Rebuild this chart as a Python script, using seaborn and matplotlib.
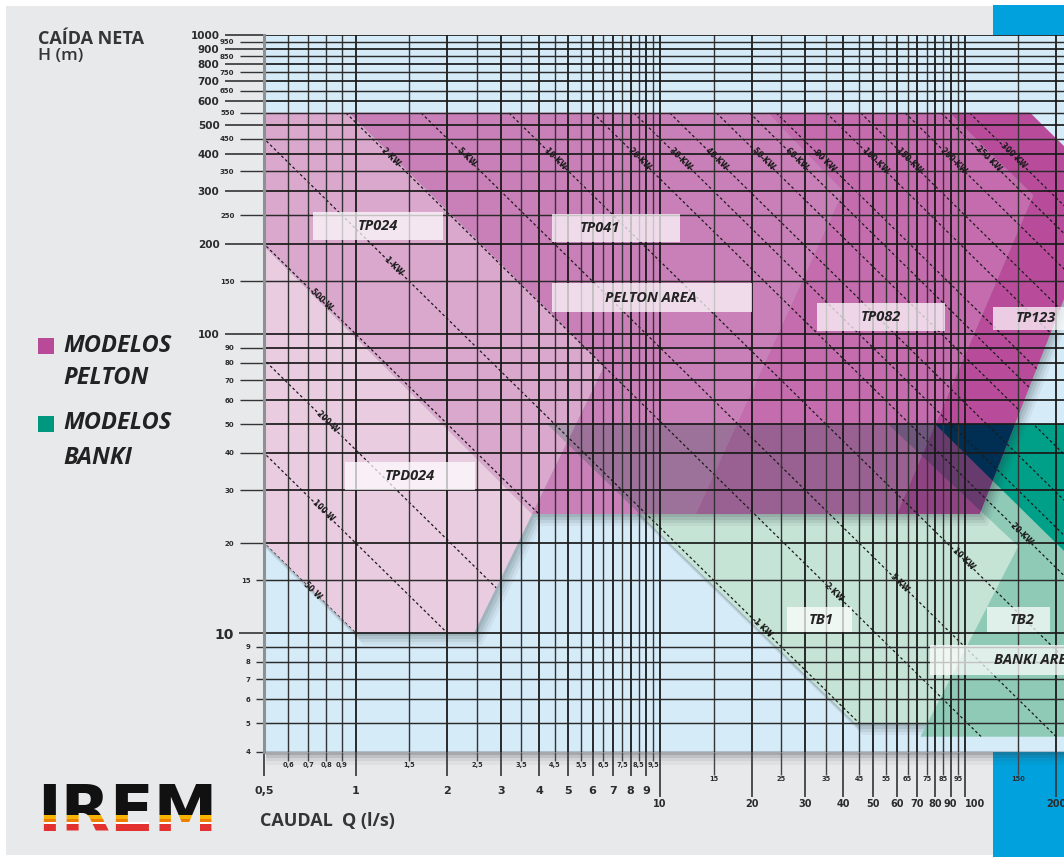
import numpy as np
import pandas as pd
import matplotlib
matplotlib.use("Agg")
import matplotlib.pyplot as plt
import matplotlib.transforms as mtransforms
from matplotlib.path import Path
from matplotlib.patches import PathPatch, Rectangle
from matplotlib.colors import to_rgb
from matplotlib import font_manager
import seaborn as sns

sns.set_theme(style="white")
plt.rcParams["font.family"] = ["Open Sans", "DejaVu Sans"]

_names = {f.name for f in font_manager.fontManager.ttflist}
NARROW = "Liberation Sans Narrow" if "Liberation Sans Narrow" in _names else "DejaVu Sans"

# ---------------- axis ticks: flow Q (l/s) and net head H (m) ----------------
q_units = [0.5, 1, 2, 3, 4, 5, 6, 7, 8, 9]
q_units_lbl = ["0,5", "1", "2", "3", "4", "5", "6", "7", "8", "9"]
q_halves = [0.6, 0.7, 0.8, 0.9, 1.5, 2.5, 3.5, 4.5, 5.5, 6.5, 7.5, 8.5, 9.5]
q_halves_lbl = ["0,6", "0,7", "0,8", "0,9", "1,5", "2,5", "3,5", "4,5", "5,5",
                "6,5", "7,5", "8,5", "9,5"]
q_tens = [10, 20, 30, 40, 50, 60, 70, 80, 90, 100, 200]
q_tens_lbl = ["10", "20", "30", "40", "50", "60", "70", "80", "90", "100", "200"]
q_fives = [15, 25, 35, 45, 55, 65, 75, 85, 95, 150]
q_fives_lbl = ["15", "25", "35", "45", "55", "65", "75", "85", "95", "150"]

h_hundreds = [100, 200, 300, 400, 500, 600, 700, 800, 900, 1000]
h_fifties = [20, 30, 40, 50, 60, 70, 80, 90, 150, 250, 350, 450, 550, 650, 750, 850, 950]
h_ten = [10]
h_units = [4, 5, 6, 7, 8, 9, 15]

# ---------------- turbine application ranges (Q, H vertices) ----------------
tpd024_q = [0.2, 1.0, 2.45, 3.8, 0.2]
tpd024_h = [50, 10, 10, 25, 500]
tp024_q = [0.2, 0.95, 6.55, 3.8, 0.2]
tp024_h = [550, 550, 78, 25, 500]
tp041_q = [0.95, 22.5, 39.9, 13.1, 3.8, 6.55]
tp041_h = [550, 550, 300, 25, 25, 78]
tp082_q = [22.5, 89, 168, 60.0, 13.1, 39.9]
tp082_h = [550, 550, 291, 25, 25, 300]
tp123_q = [89, 164, 294, 112, 60.0, 168]
tp123_h = [550, 550, 306, 25, 25, 291]

tb1_q = [4.25, 272, 86, 43.6]
tb1_h = [50, 50, 5, 5]
tb2_q = [56.0, 400, 400, 71.6, 150.0]
tb2_h = [50, 50, 4.5, 4.5, 19.5]
tb3_q = [80, 400, 400, 500]
tb3_h = [50, 50, 8, 8]

# ---------------- iso-power lines (constant Q*H) ----------------
power_lbl = ["50 W", "100 W", "200 W", "500 W", "1 KW", "2 KW", "5 KW", "10 KW",
             "20 KW", "30 KW", "40 KW", "50 KW", "60 KW", "80 KW", "100 KW",
             "150 KW", "200 KW", "250 KW", "300 KW"]
power_qh = [10, 20, 41, 100, 225, 510, 900, 1750, 3300, 4500, 5900, 8400, 10800,
            13200, 19300, 25000, 35000, 46000, 57000]

# where each power label sits along its line (head H)
label_txt = ["50 W", "100 W", "200 W", "500 W", "1 KW",
             "2 KW", "5 KW", "10 KW", "20 KW", "30 KW", "40 KW", "50 KW", "60 KW",
             "80 KW", "100 KW", "150 KW", "200 KW", "250 KW", "300 KW",
             "1 KW", "2 KW", "5 KW", "10 KW", "20 KW"]
label_h = [13.9, 25.6, 51, 130, 169,
           390, 390, 385, 385, 385, 385, 385, 385,
           380, 380, 380, 380, 385, 395,
           10.4, 13.7, 14.7, 17.7, 21.5]

pelton = [("TPD024", tpd024_q, tpd024_h, "#e9cce0"),
          ("TP024", tp024_q, tp024_h, "#daa7cd"),
          ("TP041", tp041_q, tp041_h, "#c97fb7"),
          ("TP082", tp082_q, tp082_h, "#c46cad"),
          ("TP123", tp123_q, tp123_h, "#b94b9b")]
banki = [("TB1", tb1_q, tb1_h, "#c6e4d6"),
         ("TB2", tb2_q, tb2_h, "#8fcab7"),
         ("TB3", tb3_q, tb3_h, "#00a088")]

FW, FH = 1064, 857


def fx(x):
    return x / FW


def fy(y):
    return 1 - y / FH


def region_path(qs, hs):
    v = np.column_stack([qs, hs]).astype(float)
    lv = np.log10(v)
    area = 0.5 * np.sum(lv[:, 0] * np.roll(lv[:, 1], -1) - np.roll(lv[:, 0], -1) * lv[:, 1])
    if area < 0:
        v = v[::-1]
    return Path(np.vstack([v, v[:1]]), closed=True)


def mult(c1, c2):
    a, b = to_rgb(c1), to_rgb(c2)
    return tuple(x * y for x, y in zip(a, b))


fig = plt.figure(figsize=(FW / 100, FH / 100), dpi=100)
fig.patch.set_facecolor("white")
fig.patches.append(Rectangle((fx(6), fy(855)), fx(1064) - fx(6), fy(6) - fy(855),
                             transform=fig.transFigure, facecolor="#e8e9eb",
                             edgecolor="none", zorder=-3))
fig.patches.append(Rectangle((fx(993), fy(857)), fx(1064) - fx(993), fy(5) - fy(857),
                             transform=fig.transFigure, facecolor="#00a1dd",
                             edgecolor="none", zorder=-2))
# soft shadow under the chart panel
for k, a in [(3, 0.18), (6, 0.12), (9, 0.08), (13, 0.05)]:
    fig.patches.append(Rectangle((fx(266), fy(752 + k)), fx(1064) - fx(266), fy(752) - fy(752 + k),
                                 transform=fig.transFigure, facecolor="#3a3f44",
                                 alpha=a, edgecolor="none", zorder=-1))

ax = fig.add_axes([fx(264), fy(752), fx(1064) - fx(264), fy(35) - fy(752)])
ax.set_xscale("log")
ax.set_yscale("log")
ax.set_xlim(0.5, 212)
ax.set_ylim(4, 1000)
ax.set_facecolor("#d6ebf8")
for s in ["top", "right", "bottom"]:
    ax.spines[s].set_visible(False)
ax.spines["left"].set_color("#8c9196")
ax.spines["left"].set_linewidth(2.2)
ax.spines["left"].set_zorder(9)

paths = {}
for name, qs, hs, col in pelton + banki:
    paths[name] = region_path(qs, hs)


def shadow(path, zorder):
    for dx, dy, a in [(2, 3, 0.10), (4, 6, 0.10), (6, 9, 0.08), (8, 12, 0.06)]:
        tr = ax.transData + mtransforms.ScaledTranslation(dx / 100, -dy / 100, fig.dpi_scale_trans)
        ax.add_patch(PathPatch(path, transform=tr, facecolor="#26343a", alpha=a,
                               edgecolor="none", zorder=zorder))


# Banki ranges
shadow(paths["TB1"], 0.8)
banki_patches = {}
for i, (name, qs, hs, col) in enumerate(banki):
    p = PathPatch(paths[name], facecolor=col, edgecolor="none", zorder=1 + 0.01 * i)
    ax.add_patch(p)
    banki_patches[name] = p

# Pelton ranges
for name, qs, hs, col in pelton:
    shadow(paths[name], 1.5)
for i, (name, qs, hs, col) in enumerate(pelton):
    ax.add_patch(PathPatch(paths[name], facecolor=col, edgecolor="none", zorder=2 + 0.01 * i))

# overlap of both families: colours combine multiplicatively
for j, (bname, bq, bh, bcol) in enumerate(banki):
    for i, (pname, pq, ph, pcol) in enumerate(pelton):
        p = PathPatch(paths[pname], facecolor=mult(pcol, bcol), edgecolor="none",
                      zorder=3 + 0.1 * j + 0.01 * i)
        ax.add_patch(p)
        p.set_clip_path(banki_patches[bname])

# iso-power dashed lines, only inside the turbine ranges
rows = []
for lbl, qh in zip(power_lbl, power_qh):
    for q in (0.2, 600):
        rows.append({"line": lbl, "Q": q, "H": qh / q})
lines_df = pd.DataFrame(rows)
n0 = len(ax.lines)
sns.lineplot(data=lines_df, x="Q", y="H", units="line", estimator=None, sort=False,
             color="#1b1b1b", lw=0.9, linestyle=(0, (2.2, 2.0)), legend=False, ax=ax,
             zorder=4)
union = PathPatch(Path.make_compound_path(*paths.values()), transform=ax.transData)
for ln in ax.lines[n0:]:
    ln.set_clip_path(union)
ax.set_xlabel("")
ax.set_ylabel("")
ax.set_xlim(0.5, 212)
ax.set_ylim(4, 1000)

# grid
for q in q_units + q_tens:
    ax.axvline(q, color="#1a1a1a", lw=1.3, zorder=5)
for q in q_halves + q_fives:
    ax.axvline(q, color="#333333", lw=1.0, zorder=5)
for h in h_hundreds + h_ten + h_fifties[:8]:
    ax.axhline(h, color="#1a1a1a", lw=1.25, zorder=5)
for h in h_fifties[8:] + h_units:
    ax.axhline(h, color="#2a2a2a", lw=1.05, zorder=5)

# ticks
PT = 0.72
tick_font = dict(family=[NARROW, "DejaVu Sans"], fontweight="bold", color="#2b2b2b")
ax.set_xticks(q_units)
ax.set_xticklabels(q_units_lbl, fontsize=8, **tick_font)
ax.set_xticks(q_halves, minor=True)
ax.set_xticklabels(q_halves_lbl, minor=True, fontsize=4.8, **tick_font)
ax.set_yticks(h_hundreds)
ax.set_yticklabels([str(v) for v in h_hundreds], fontsize=7.5, **tick_font)
ax.set_yticks(h_fifties, minor=True)
ax.set_yticklabels([str(v) for v in h_fifties], minor=True, fontsize=5, **tick_font)
ax.tick_params(axis="x", which="major", bottom=True, direction="out", length=24 * PT,
               width=1.2, color="#333333", pad=7)
ax.tick_params(axis="x", which="minor", bottom=True, direction="out", length=9 * PT,
               width=1.0, color="#444444", pad=0.5)
ax.tick_params(axis="y", which="major", left=True, direction="out", length=39 * PT,
               width=1.2, color="#333333", pad=4)
ax.tick_params(axis="y", which="minor", left=True, direction="out", length=24 * PT,
               width=1.0, color="#333333", pad=4)

sx = ax.secondary_xaxis("bottom")
sx.set_xticks(q_tens)
sx.set_xticklabels(q_tens_lbl, fontsize=7, **tick_font)
sx.set_xticks(q_fives, minor=True)
sx.set_xticklabels(q_fives_lbl, minor=True, fontsize=4.8, **tick_font)
sx.tick_params(which="major", direction="out", length=45 * PT, width=1.2, color="#333333", pad=1.5)
sx.tick_params(which="minor", direction="out", length=23 * PT, width=1.0, color="#444444", pad=1)
sx.spines["bottom"].set_visible(False)
for lab in sx.get_xticklabels():
    if lab.get_text() == "100":
        lab.set_horizontalalignment("left")

sy = ax.secondary_yaxis("left")
sy.set_yticks(h_ten)
sy.set_yticklabels(["10"], fontsize=10, **tick_font)
sy.set_yticks(h_units, minor=True)
sy.set_yticklabels([str(v) for v in h_units], minor=True, fontsize=5, **tick_font)
sy.tick_params(which="major", direction="out", length=25 * PT, width=1.2, color="#333333", pad=4)
sy.tick_params(which="minor", direction="out", length=8 * PT, width=1.0, color="#333333", pad=4)
sy.spines["left"].set_visible(False)

# power labels along the dashed lines
p1 = ax.transData.transform((1, 100))
p2 = ax.transData.transform((10, 10))
ang = np.degrees(np.arctan2(p2[1] - p1[1], p2[0] - p1[0]))
qh_of = dict(zip(power_lbl, power_qh))
for txt, h in zip(label_txt, label_h):
    q = qh_of[txt] / h
    ax.text(q, h, txt, rotation=ang, rotation_mode="anchor", ha="center", va="center",
            fontsize=5.5, fontweight="bold", color="#1b1b1b", zorder=8,
            family=[NARROW, "DejaVu Sans"])


# name boxes inside the ranges
def ax_x(x):
    return (x - 264) / 800


def ax_y(y):
    return (752 - y) / 717


boxes = [("TP024", 313, 212, 443, 240, 378),
         ("TP041", 552, 214, 680, 242, 600),
         ("PELTON AREA", 552, 283, 752, 312, 651),
         ("TP082", 817, 303, 945, 331, 881),
         ("TP123", 993, 307, 1080, 330, 1036),
         ("TPD024", 345, 462, 475, 490, 410),
         ("TB1", 787, 607, 852, 632, 821),
         ("TB2", 987, 607, 1050, 632, 1022),
         ("BANKI AREA", 930, 645, 1140, 675, 1035)]
for txt, x0, y0, x1, y1, xc in boxes:
    ax.add_patch(Rectangle((ax_x(x0), ax_y(y1)), ax_x(x1) - ax_x(x0), ax_y(y0) - ax_y(y1),
                           transform=ax.transAxes, facecolor="white", alpha=0.72,
                           edgecolor="none", zorder=7, clip_on=True))
    ax.text(ax_x(xc), ax_y((y0 + y1) / 2), txt, transform=ax.transAxes, ha="center",
            va="center", fontsize=10.5, fontweight="bold", fontstyle="italic",
            color="#232323", zorder=8, clip_on=True)

# headings
fig.text(fx(38), fy(30), "CAÍDA NETA", fontsize=13, fontweight="bold", color="#353535",
         ha="left", va="top")
fig.text(fx(38), fy(48), "H (m)", fontsize=12.5, fontweight="semibold", color="#353535",
         ha="left", va="top")
fig.text(fx(260), fy(812), "CAUDAL  Q (l/s)", fontsize=13, fontweight="bold", color="#353535",
         ha="left", va="top")

# legend
fig.patches.append(Rectangle((fx(38), fy(354)), 16 / FW, 16 / FH, transform=fig.transFigure,
                             facecolor="#b84a98", edgecolor="none"))
fig.patches.append(Rectangle((fx(38), fy(432)), 16 / FW, 16 / FH, transform=fig.transFigure,
                             facecolor="#00977f", edgecolor="none"))
leg_font = dict(fontsize=17, fontweight="bold", fontstyle="italic", color="#222222",
                ha="left", va="center")
fig.text(fx(63), fy(346), "MODELOS", **leg_font)
fig.text(fx(63), fy(378), "PELTON", **leg_font)
fig.text(fx(63), fy(423), "MODELOS", **leg_font)
fig.text(fx(63), fy(458), "BANKI", **leg_font)

# company logo: heavy letters crossed by coloured stripes at the foot
for col, ytop, ybot in [("#111111", 760, 815), ("#f6b400", 815, 818.5),
                        ("#ee7d00", 818.5, 822), ("#ffffff", 822, 824),
                        ("#e2312f", 824, 836)]:
    t = fig.text(fx(37), fy(831), "IREM", fontsize=46, fontweight="heavy",
                 family=["DejaVu Sans"], color=col, ha="left", va="baseline")
    t.set_clip_box(mtransforms.Bbox([[0, FH - ybot], [FW, FH - ytop]]))
    t.set_clip_on(True)

fig.savefig("out.png", dpi=100, facecolor=fig.get_facecolor())
